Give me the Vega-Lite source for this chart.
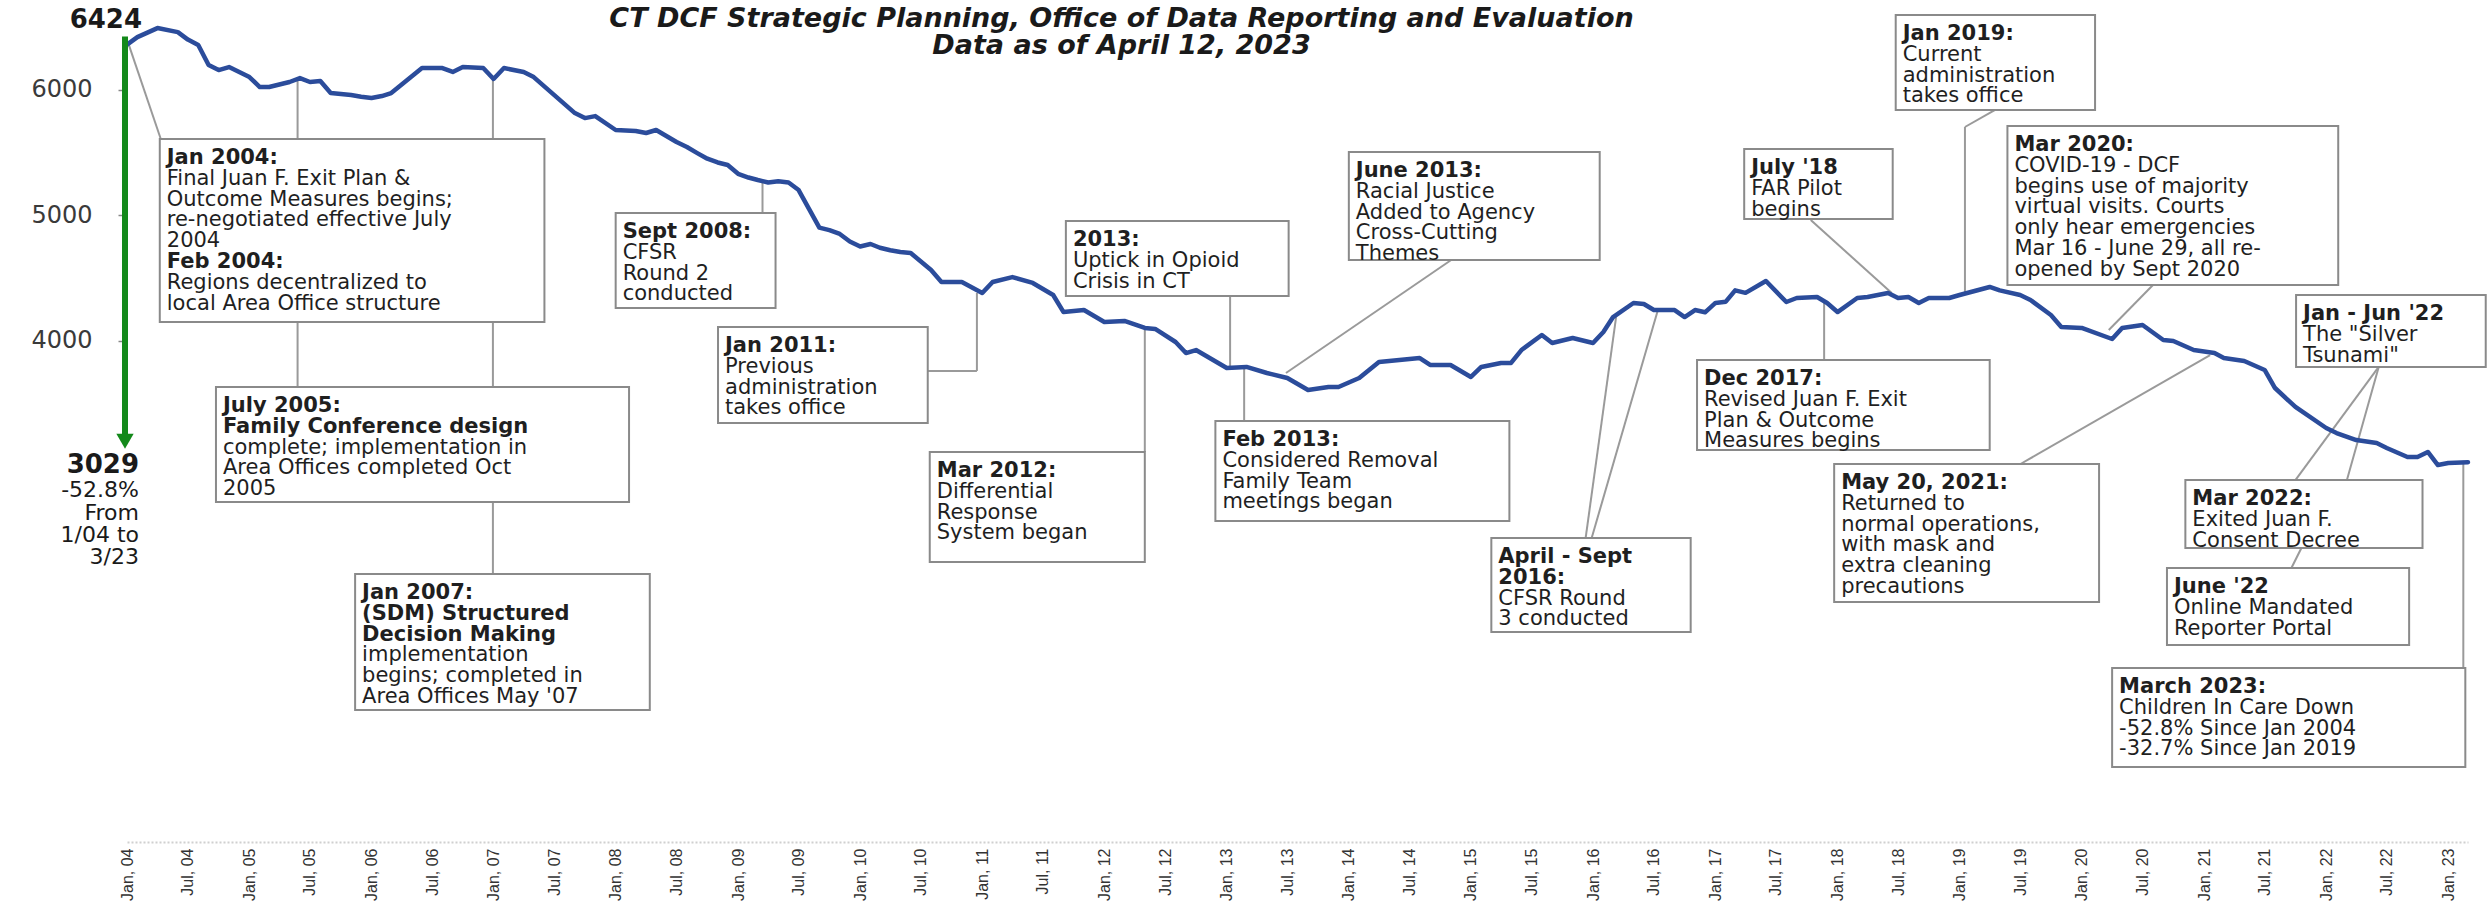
{
  "$schema": "https://vega.github.io/schema/vega-lite/v6.json",
  "width": 2341,
  "height": 840,
  "autosize": {"type": "none"},
  "padding": {"left": 127, "top": 2, "right": 24, "bottom": 67},
  "background": "white",
  "config": {"view": {"stroke": null}},
  "title": {
    "text": ["CT DCF Strategic Planning, Office of Data Reporting and Evaluation", "Data as of April 12, 2023"],
    "anchor": "middle", "frame": "group", "orient": "top", "offset": -58, "dx": -176, "lineHeight": 27.5,
    "font": "DejaVu Sans", "fontSize": 27, "fontStyle": "italic", "fontWeight": "bold", "color": "#1a1a1a"
  },
  "datasets": {
    "series": [
      {"date": "2004-01-01", "value": 6360}, {"date": "2004-02-01", "value": 6420}, {"date": "2004-04-01", "value": 6492},
      {"date": "2004-06-01", "value": 6460}, {"date": "2004-07-01", "value": 6400}, {"date": "2004-08-01", "value": 6357},
      {"date": "2004-09-01", "value": 6197}, {"date": "2004-10-01", "value": 6157}, {"date": "2004-11-01", "value": 6181},
      {"date": "2005-01-01", "value": 6101}, {"date": "2005-02-01", "value": 6022}, {"date": "2005-03-01", "value": 6022},
      {"date": "2005-05-01", "value": 6062}, {"date": "2005-06-01", "value": 6093}, {"date": "2005-07-01", "value": 6062},
      {"date": "2005-08-01", "value": 6070}, {"date": "2005-09-01", "value": 5974}, {"date": "2005-11-01", "value": 5958},
      {"date": "2005-12-01", "value": 5945}, {"date": "2006-01-01", "value": 5934}, {"date": "2006-02-01", "value": 5950},
      {"date": "2006-03-01", "value": 5974}, {"date": "2006-06-01", "value": 6173}, {"date": "2006-08-01", "value": 6173},
      {"date": "2006-09-01", "value": 6142}, {"date": "2006-10-01", "value": 6181}, {"date": "2006-12-01", "value": 6173},
      {"date": "2007-01-01", "value": 6086}, {"date": "2007-02-01", "value": 6173}, {"date": "2007-04-01", "value": 6142},
      {"date": "2007-05-01", "value": 6101}, {"date": "2007-09-01", "value": 5814}, {"date": "2007-10-01", "value": 5774},
      {"date": "2007-11-01", "value": 5790}, {"date": "2008-01-01", "value": 5679}, {"date": "2008-03-01", "value": 5671},
      {"date": "2008-04-01", "value": 5655}, {"date": "2008-05-01", "value": 5679}, {"date": "2008-07-01", "value": 5583},
      {"date": "2008-08-01", "value": 5543}, {"date": "2008-09-01", "value": 5495}, {"date": "2008-10-01", "value": 5450},
      {"date": "2008-11-01", "value": 5420}, {"date": "2008-12-01", "value": 5400}, {"date": "2009-01-01", "value": 5330},
      {"date": "2009-02-01", "value": 5300}, {"date": "2009-03-01", "value": 5280}, {"date": "2009-04-01", "value": 5260},
      {"date": "2009-05-01", "value": 5270}, {"date": "2009-06-01", "value": 5260}, {"date": "2009-07-01", "value": 5200},
      {"date": "2009-08-01", "value": 5050}, {"date": "2009-09-01", "value": 4900}, {"date": "2009-10-01", "value": 4880},
      {"date": "2009-11-01", "value": 4850}, {"date": "2009-12-01", "value": 4790}, {"date": "2010-01-01", "value": 4750},
      {"date": "2010-02-01", "value": 4770}, {"date": "2010-03-01", "value": 4740}, {"date": "2010-04-01", "value": 4720},
      {"date": "2010-05-01", "value": 4706}, {"date": "2010-06-01", "value": 4698}, {"date": "2010-08-01", "value": 4562},
      {"date": "2010-09-01", "value": 4467}, {"date": "2010-11-01", "value": 4467}, {"date": "2011-01-01", "value": 4379},
      {"date": "2011-02-01", "value": 4467}, {"date": "2011-04-01", "value": 4506}, {"date": "2011-06-01", "value": 4459},
      {"date": "2011-08-01", "value": 4363}, {"date": "2011-09-01", "value": 4227}, {"date": "2011-11-01", "value": 4243},
      {"date": "2012-01-01", "value": 4148}, {"date": "2012-03-01", "value": 4156}, {"date": "2012-05-01", "value": 4100},
      {"date": "2012-06-01", "value": 4092}, {"date": "2012-08-01", "value": 3988}, {"date": "2012-09-01", "value": 3900},
      {"date": "2012-10-01", "value": 3924}, {"date": "2013-01-01", "value": 3781}, {"date": "2013-03-01", "value": 3789},
      {"date": "2013-05-01", "value": 3741}, {"date": "2013-07-01", "value": 3701}, {"date": "2013-09-01", "value": 3605},
      {"date": "2013-11-01", "value": 3629}, {"date": "2013-12-01", "value": 3629}, {"date": "2014-02-01", "value": 3701},
      {"date": "2014-04-01", "value": 3829}, {"date": "2014-06-01", "value": 3844}, {"date": "2014-08-01", "value": 3860},
      {"date": "2014-09-01", "value": 3805}, {"date": "2014-11-01", "value": 3805}, {"date": "2015-01-01", "value": 3709},
      {"date": "2015-02-01", "value": 3789}, {"date": "2015-04-01", "value": 3821}, {"date": "2015-05-01", "value": 3821},
      {"date": "2015-06-01", "value": 3924}, {"date": "2015-08-01", "value": 4044}, {"date": "2015-09-01", "value": 3980},
      {"date": "2015-11-01", "value": 4020}, {"date": "2016-01-01", "value": 3980}, {"date": "2016-02-01", "value": 4068},
      {"date": "2016-03-01", "value": 4187}, {"date": "2016-05-01", "value": 4299}, {"date": "2016-06-01", "value": 4291},
      {"date": "2016-07-01", "value": 4243}, {"date": "2016-09-01", "value": 4243}, {"date": "2016-10-01", "value": 4187},
      {"date": "2016-11-01", "value": 4243}, {"date": "2016-12-01", "value": 4225}, {"date": "2017-01-01", "value": 4300},
      {"date": "2017-02-01", "value": 4310}, {"date": "2017-03-01", "value": 4400}, {"date": "2017-04-01", "value": 4380},
      {"date": "2017-06-01", "value": 4475}, {"date": "2017-08-01", "value": 4307}, {"date": "2017-09-01", "value": 4339},
      {"date": "2017-11-01", "value": 4347}, {"date": "2017-12-01", "value": 4299}, {"date": "2018-01-01", "value": 4227},
      {"date": "2018-03-01", "value": 4339}, {"date": "2018-04-01", "value": 4347}, {"date": "2018-06-01", "value": 4379},
      {"date": "2018-07-01", "value": 4339}, {"date": "2018-08-01", "value": 4347}, {"date": "2018-09-01", "value": 4299},
      {"date": "2018-10-01", "value": 4339}, {"date": "2018-12-01", "value": 4339}, {"date": "2019-01-01", "value": 4363},
      {"date": "2019-04-01", "value": 4427}, {"date": "2019-05-01", "value": 4400}, {"date": "2019-07-01", "value": 4363},
      {"date": "2019-08-01", "value": 4323}, {"date": "2019-10-01", "value": 4203}, {"date": "2019-11-01", "value": 4108},
      {"date": "2020-01-01", "value": 4100}, {"date": "2020-04-01", "value": 4012}, {"date": "2020-05-01", "value": 4100},
      {"date": "2020-07-01", "value": 4124}, {"date": "2020-09-01", "value": 4004}, {"date": "2020-10-01", "value": 3996},
      {"date": "2020-12-01", "value": 3924}, {"date": "2021-02-01", "value": 3900}, {"date": "2021-03-01", "value": 3860},
      {"date": "2021-05-01", "value": 3837}, {"date": "2021-07-01", "value": 3765}, {"date": "2021-08-01", "value": 3621},
      {"date": "2021-10-01", "value": 3470}, {"date": "2022-01-01", "value": 3302}, {"date": "2022-02-01", "value": 3262},
      {"date": "2022-04-01", "value": 3206}, {"date": "2022-06-01", "value": 3182}, {"date": "2022-07-01", "value": 3143},
      {"date": "2022-09-01", "value": 3071}, {"date": "2022-10-01", "value": 3071}, {"date": "2022-11-01", "value": 3111},
      {"date": "2022-12-01", "value": 3007}, {"date": "2023-01-01", "value": 3023}, {"date": "2023-03-01", "value": 3029}
    ],
    "leaders": [
      {"x1": "2004-01-05", "y1": 6370, "x2": "2004-04-11", "y2": 5607},
      {"x1": "2005-05-25", "y1": 6085, "x2": "2005-05-25", "y2": 3629},
      {"x1": "2006-12-30", "y1": 6086, "x2": "2006-12-30", "y2": 2138},
      {"x1": "2009-03-15", "y1": 5270, "x2": "2009-03-15", "y2": 5017},
      {"x1": "2010-07-22", "y1": 3757, "x2": "2010-12-16", "y2": 3757},
      {"x1": "2010-12-16", "y1": 3757, "x2": "2010-12-16", "y2": 4379},
      {"x1": "2012-05-01", "y1": 4100, "x2": "2012-05-01", "y2": 3111},
      {"x1": "2013-01-11", "y1": 4355, "x2": "2013-01-11", "y2": 3781},
      {"x1": "2013-02-22", "y1": 3789, "x2": "2013-02-22", "y2": 3358},
      {"x1": "2014-11-03", "y1": 4642, "x2": "2013-06-27", "y2": 3741},
      {"x1": "2015-12-10", "y1": 2425, "x2": "2016-03-10", "y2": 4187},
      {"x1": "2015-12-28", "y1": 2425, "x2": "2016-07-13", "y2": 4243},
      {"x1": "2017-11-22", "y1": 4299, "x2": "2017-11-22", "y2": 3845},
      {"x1": "2017-10-13", "y1": 4961, "x2": "2018-06-12", "y2": 4379},
      {"x1": "2019-04-16", "y1": 5838, "x2": "2019-01-17", "y2": 5703},
      {"x1": "2019-01-17", "y1": 5703, "x2": "2019-01-17", "y2": 4363},
      {"x1": "2020-08-07", "y1": 4459, "x2": "2020-03-22", "y2": 4084},
      {"x1": "2019-07-02", "y1": 3015, "x2": "2021-01-19", "y2": 3884},
      {"x1": "2022-06-07", "y1": 3789, "x2": "2021-10-01", "y2": 2887},
      {"x1": "2022-06-07", "y1": 3789, "x2": "2022-03-04", "y2": 2887},
      {"x1": "2021-10-19", "y1": 2345, "x2": "2021-09-19", "y2": 2185},
      {"x1": "2023-02-15", "y1": 3040, "x2": "2023-02-15", "y2": 1388}
    ],
    "boxes": [
      {"x1": "2004-04-08", "x2": "2007-06-02", "y1": 5607, "y2": 4148},
      {"x1": "2008-01-01", "x2": "2009-04-23", "y1": 5017, "y2": 4259},
      {"x1": "2004-09-23", "x2": "2008-02-10", "y1": 3629, "y2": 2712},
      {"x1": "2005-11-13", "x2": "2008-04-12", "y1": 2138, "y2": 1053},
      {"x1": "2008-11-02", "x2": "2010-07-22", "y1": 4108, "y2": 3342},
      {"x1": "2010-07-28", "x2": "2012-05-01", "y1": 3111, "y2": 2233},
      {"x1": "2011-09-08", "x2": "2013-07-05", "y1": 4953, "y2": 4355},
      {"x1": "2014-01-01", "x2": "2016-01-21", "y1": 5504, "y2": 4642},
      {"x1": "2012-11-28", "x2": "2015-04-26", "y1": 3358, "y2": 2560},
      {"x1": "2015-03-03", "x2": "2016-10-19", "y1": 2425, "y2": 1675},
      {"x1": "2017-03-28", "x2": "2018-06-15", "y1": 5527, "y2": 4969},
      {"x1": "2016-11-07", "x2": "2019-04-01", "y1": 3845, "y2": 3127},
      {"x1": "2018-06-24", "x2": "2020-02-10", "y1": 6596, "y2": 5838},
      {"x1": "2019-05-24", "x2": "2022-02-06", "y1": 5711, "y2": 4443},
      {"x1": "2017-12-22", "x2": "2020-02-22", "y1": 3015, "y2": 1914},
      {"x1": "2021-10-03", "x2": "2023-04-23", "y1": 4363, "y2": 3789},
      {"x1": "2020-11-06", "x2": "2022-10-16", "y1": 2887, "y2": 2345},
      {"x1": "2020-09-12", "x2": "2022-09-06", "y1": 2185, "y2": 1571},
      {"x1": "2020-04-01", "x2": "2023-02-21", "y1": 1388, "y2": 598}
    ],
    "boldText": [
      {"x": "2004-04-08", "y": 5607, "text": "Jan 2004:"},
      {"x": "2004-04-08", "y": 4778, "text": "Feb 2004:"},
      {"x": "2008-01-01", "y": 5017, "text": "Sept 2008:"},
      {"x": "2004-09-23", "y": 3629, "text": "July 2005:\nFamily Conference design"},
      {"x": "2005-11-13", "y": 2138, "text": "Jan 2007:\n(SDM) Structured\nDecision Making"},
      {"x": "2008-11-02", "y": 4108, "text": "Jan 2011:"},
      {"x": "2010-07-28", "y": 3111, "text": "Mar 2012:"},
      {"x": "2011-09-08", "y": 4953, "text": "2013:"},
      {"x": "2014-01-01", "y": 5504, "text": "June 2013:"},
      {"x": "2012-11-28", "y": 3358, "text": "Feb 2013:"},
      {"x": "2015-03-03", "y": 2425, "text": "April - Sept\n2016:"},
      {"x": "2017-03-28", "y": 5527, "text": "July '18"},
      {"x": "2016-11-07", "y": 3845, "text": "Dec 2017:"},
      {"x": "2018-06-24", "y": 6596, "text": "Jan 2019:"},
      {"x": "2019-05-24", "y": 5711, "text": "Mar 2020:"},
      {"x": "2017-12-22", "y": 3015, "text": "May 20, 2021:"},
      {"x": "2021-10-03", "y": 4363, "text": "Jan - Jun '22"},
      {"x": "2020-11-06", "y": 2887, "text": "Mar 2022:"},
      {"x": "2020-09-12", "y": 2185, "text": "June '22"},
      {"x": "2020-04-01", "y": 1388, "text": "March 2023:"}
    ],
    "regText": [
      {"x": "2004-04-08", "y": 5441, "text": "Final Juan F. Exit Plan &\nOutcome Measures begins;\nre-negotiated effective July\n2004"},
      {"x": "2004-04-08", "y": 4612, "text": "Regions decentralized to\nlocal Area Office structure"},
      {"x": "2008-01-01", "y": 4851, "text": "CFSR\nRound 2\nconducted"},
      {"x": "2004-09-23", "y": 3297, "text": "complete; implementation in\nArea Offices completed Oct\n2005"},
      {"x": "2005-11-13", "y": 1640, "text": "implementation\nbegins; completed in\nArea Offices May '07"},
      {"x": "2008-11-02", "y": 3942, "text": "Previous\nadministration\ntakes office"},
      {"x": "2010-07-28", "y": 2945, "text": "Differential\nResponse\nSystem began"},
      {"x": "2011-09-08", "y": 4787, "text": "Uptick in Opioid\nCrisis in CT"},
      {"x": "2014-01-01", "y": 5338, "text": "Racial Justice\nAdded to Agency\nCross-Cutting\nThemes"},
      {"x": "2012-11-28", "y": 3192, "text": "Considered Removal\nFamily Team\nmeetings began"},
      {"x": "2015-03-03", "y": 2093, "text": "CFSR Round\n3 conducted"},
      {"x": "2017-03-28", "y": 5361, "text": "FAR Pilot\nbegins"},
      {"x": "2016-11-07", "y": 3679, "text": "Revised Juan F. Exit\nPlan & Outcome\nMeasures begins"},
      {"x": "2018-06-24", "y": 6430, "text": "Current\nadministration\ntakes office"},
      {"x": "2019-05-24", "y": 5545, "text": "COVID-19 - DCF\nbegins use of majority\nvirtual visits.  Courts\nonly hear emergencies\nMar 16 - June 29, all re-\nopened by Sept 2020"},
      {"x": "2017-12-22", "y": 2849, "text": "Returned to\nnormal operations,\nwith mask and\nextra cleaning\nprecautions"},
      {"x": "2021-10-03", "y": 4197, "text": "The \"Silver\nTsunami\""},
      {"x": "2020-11-06", "y": 2721, "text": "Exited Juan F.\nConsent Decree"},
      {"x": "2020-09-12", "y": 2019, "text": "Online Mandated\nReporter Portal"},
      {"x": "2020-04-01", "y": 1222, "text": "Children In Care Down\n-52.8% Since Jan 2004\n-32.7% Since Jan 2019"}
    ]
  },
  "layer": [
    {
      "data": {"name": "leaders"},
      "mark": {"type": "rule", "color": "#9a9a9a", "strokeWidth": 2},
      "encoding": {
        "x": {"field": "x1", "type": "temporal", "title": null, "scale": {"type": "utc", "nice": false, "domain": [{"year": 2004, "month": 1, "date": 1, "utc": true}, {"year": 2023, "month": 3, "date": 1, "utc": true}]}},
        "x2": {"field": "x2"},
        "y": {"field": "y1", "type": "quantitative", "title": null, "scale": {"domain": [0, 6700], "nice": false, "zero": false}},
        "y2": {"field": "y2"}
      }
    },
    {
      "data": {"name": "series"},
      "mark": {"type": "line", "color": "#2B4C9B", "strokeWidth": 4.5, "strokeJoin": "round", "strokeCap": "round"},
      "encoding": {
        "x": {"field": "date", "type": "temporal", "title": null,
              "scale": {"type": "utc", "nice": false, "domain": [{"year": 2004, "month": 1, "date": 1, "utc": true}, {"year": 2023, "month": 3, "date": 1, "utc": true}]},
              "axis": {"title": null, "format": "%b, %y", "tickCount": {"interval": "month", "step": 6}, "labelAngle": 270,
                       "labelFont": "Liberation Sans", "labelFontSize": 16, "labelColor": "#333333", "labelPadding": 6,
                       "ticks": false, "grid": false, "domainColor": "#d0d0d0", "domainDash": [2, 2], "domainWidth": 2,
                       "labelOverlap": false, "labelBound": false, "labelFlush": false}},
        "y": {"field": "value", "type": "quantitative", "title": null,
              "scale": {"domain": [0, 6700], "nice": false, "zero": false},
              "axis": {"title": null, "values": [4000, 5000, 6000], "format": "d", "grid": false, "domain": false,
                       "labelFont": "DejaVu Sans", "labelFontSize": 24, "labelColor": "#3a3a3a",
                       "tickColor": "#888888", "tickSize": 9, "tickWidth": 1.5, "labelPadding": 26}}
      }
    },
    {
      "data": {"name": "boxes"},
      "mark": {"type": "rect", "fill": "white", "stroke": "#8a8a8a", "strokeWidth": 2},
      "encoding": {
        "x": {"field": "x1", "type": "temporal", "title": null, "scale": {"type": "utc", "nice": false, "domain": [{"year": 2004, "month": 1, "date": 1, "utc": true}, {"year": 2023, "month": 3, "date": 1, "utc": true}]}},
        "x2": {"field": "x2"},
        "y": {"field": "y1", "type": "quantitative", "title": null, "scale": {"domain": [0, 6700], "nice": false, "zero": false}},
        "y2": {"field": "y2"}
      }
    },
    {
      "data": {"name": "boldText"},
      "mark": {"type": "text", "font": "DejaVu Sans", "fontWeight": "bold", "fontSize": 21, "lineHeight": 20.8, "lineBreak": "\n",
               "align": "left", "baseline": "top", "dx": 7, "dy": 8, "color": "#1f1f1f"},
      "encoding": {
        "x": {"field": "x", "type": "temporal", "title": null, "scale": {"type": "utc", "nice": false, "domain": [{"year": 2004, "month": 1, "date": 1, "utc": true}, {"year": 2023, "month": 3, "date": 1, "utc": true}]}},
        "y": {"field": "y", "type": "quantitative", "title": null, "scale": {"domain": [0, 6700], "nice": false, "zero": false}},
        "text": {"field": "text"}
      }
    },
    {
      "data": {"name": "regText"},
      "mark": {"type": "text", "font": "DejaVu Sans", "fontWeight": "normal", "fontSize": 21, "lineHeight": 20.8, "lineBreak": "\n",
               "align": "left", "baseline": "top", "dx": 7, "dy": 8, "color": "#1f1f1f"},
      "encoding": {
        "x": {"field": "x", "type": "temporal", "title": null, "scale": {"type": "utc", "nice": false, "domain": [{"year": 2004, "month": 1, "date": 1, "utc": true}, {"year": 2023, "month": 3, "date": 1, "utc": true}]}},
        "y": {"field": "y", "type": "quantitative", "title": null, "scale": {"domain": [0, 6700], "nice": false, "zero": false}},
        "text": {"field": "text"}
      }
    },
    {
      "data": {"values": [{"date": "2004-01-01", "start": 6424, "end": 3029}]},
      "mark": {"type": "rule", "color": "#13891a", "strokeWidth": 6, "y2Offset": -24, "xOffset": -2},
      "encoding": {
        "x": {"field": "date", "type": "temporal", "title": null, "scale": {"type": "utc", "nice": false, "domain": [{"year": 2004, "month": 1, "date": 1, "utc": true}, {"year": 2023, "month": 3, "date": 1, "utc": true}]}},
        "y": {"field": "start", "type": "quantitative", "title": null, "scale": {"domain": [0, 6700], "nice": false, "zero": false}},
        "y2": {"field": "end"}
      }
    },
    {
      "data": {"values": [{"date": "2004-01-01", "end": 3029}]},
      "mark": {"type": "point", "shape": "triangle-down", "filled": true, "color": "#13891a", "opacity": 1, "size": 300, "yOffset": -21, "xOffset": -2},
      "encoding": {
        "x": {"field": "date", "type": "temporal", "title": null, "scale": {"type": "utc", "nice": false, "domain": [{"year": 2004, "month": 1, "date": 1, "utc": true}, {"year": 2023, "month": 3, "date": 1, "utc": true}]}},
        "y": {"field": "end", "type": "quantitative", "title": null, "scale": {"domain": [0, 6700], "nice": false, "zero": false}}
      }
    },
    {
      "data": {"values": [{"date": "2004-01-01", "value": 6424, "label": "6424"}]},
      "mark": {"type": "text", "font": "DejaVu Sans", "fontWeight": "bold", "fontSize": 26, "align": "right", "baseline": "middle", "dx": 15, "dy": -17, "color": "#1a1a1a"},
      "encoding": {
        "x": {"field": "date", "type": "temporal", "title": null, "scale": {"type": "utc", "nice": false, "domain": [{"year": 2004, "month": 1, "date": 1, "utc": true}, {"year": 2023, "month": 3, "date": 1, "utc": true}]}},
        "y": {"field": "value", "type": "quantitative", "title": null, "scale": {"domain": [0, 6700], "nice": false, "zero": false}},
        "text": {"field": "label"}
      }
    },
    {
      "data": {"values": [{"date": "2004-01-01", "value": 3029, "label": "3029"}]},
      "mark": {"type": "text", "font": "DejaVu Sans", "fontWeight": "bold", "fontSize": 26, "align": "right", "baseline": "middle", "dx": 12, "dy": 3, "color": "#1a1a1a"},
      "encoding": {
        "x": {"field": "date", "type": "temporal", "title": null, "scale": {"type": "utc", "nice": false, "domain": [{"year": 2004, "month": 1, "date": 1, "utc": true}, {"year": 2023, "month": 3, "date": 1, "utc": true}]}},
        "y": {"field": "value", "type": "quantitative", "title": null, "scale": {"domain": [0, 6700], "nice": false, "zero": false}},
        "text": {"field": "label"}
      }
    },
    {
      "data": {"values": [{"date": "2004-01-01", "value": 3029, "label": "-52.8%\nFrom\n1/04 to\n3/23"}]},
      "mark": {"type": "text", "font": "DejaVu Sans", "fontWeight": "normal", "fontSize": 22, "lineHeight": 22.3, "lineBreak": "\n", "align": "right", "baseline": "top", "dx": 12, "dy": 18, "color": "#1a1a1a"},
      "encoding": {
        "x": {"field": "date", "type": "temporal", "title": null, "scale": {"type": "utc", "nice": false, "domain": [{"year": 2004, "month": 1, "date": 1, "utc": true}, {"year": 2023, "month": 3, "date": 1, "utc": true}]}},
        "y": {"field": "value", "type": "quantitative", "title": null, "scale": {"domain": [0, 6700], "nice": false, "zero": false}},
        "text": {"field": "label"}
      }
    }
  ]
}
